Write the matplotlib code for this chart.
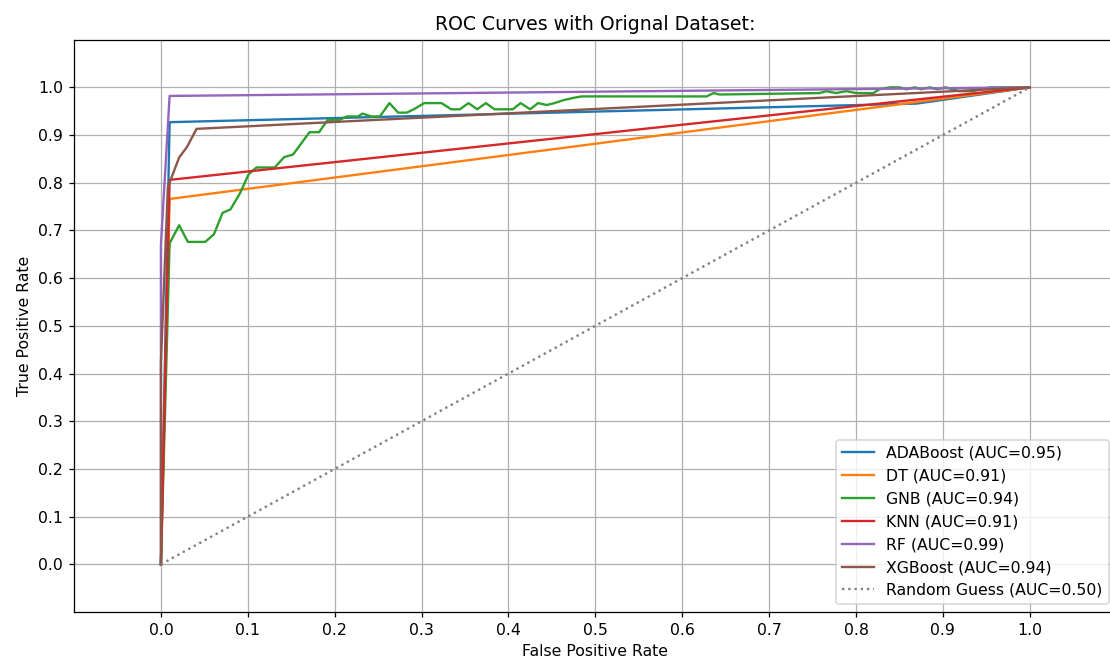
import numpy as np
import matplotlib
matplotlib.use("Agg")
import matplotlib.pyplot as plt

# ROC points
ada_fpr = [0.0, 0.01, 0.87, 1.0]
ada_tpr = [0.0, 0.927, 0.966, 1.0]

dt_fpr = [0.0, 0.01, 1.0]
dt_tpr = [0.0, 0.766, 1.0]

gnb_fpr = [0.0, 0.01, 0.021, 0.031, 0.051, 0.061, 0.071, 0.080, 0.091, 0.101,
           0.110, 0.131, 0.142, 0.152, 0.171, 0.182, 0.192, 0.206, 0.214, 0.227,
           0.232, 0.242, 0.252, 0.263, 0.273, 0.283, 0.292, 0.303, 0.323, 0.334,
           0.344, 0.354, 0.364, 0.374, 0.384, 0.405, 0.414, 0.425, 0.434, 0.444,
           0.453, 0.463, 0.475, 0.484, 0.628, 0.636, 0.643, 0.758, 0.766, 0.777,
           0.789, 0.800, 0.820, 0.827, 0.839, 0.850, 0.858, 0.868, 0.875, 0.885,
           0.893, 0.903, 0.919, 0.934, 0.954, 1.0]
gnb_tpr = [0.0, 0.673, 0.711, 0.676, 0.676, 0.692, 0.737, 0.744, 0.778, 0.818,
           0.832, 0.832, 0.854, 0.859, 0.906, 0.906, 0.932, 0.932, 0.939, 0.939,
           0.945, 0.939, 0.939, 0.967, 0.947, 0.947, 0.955, 0.967, 0.967, 0.954,
           0.954, 0.967, 0.954, 0.967, 0.954, 0.954, 0.967, 0.954, 0.967, 0.963,
           0.967, 0.973, 0.978, 0.981, 0.981, 0.988, 0.985, 0.988, 0.992, 0.988,
           0.992, 0.988, 0.988, 0.996, 1.0, 1.0, 0.996, 1.0, 0.996, 1.0,
           0.996, 1.0, 0.992, 0.992, 1.0, 1.0]

knn_fpr = [0.0, 0.01, 1.0]
knn_tpr = [0.0, 0.806, 1.0]

rf_fpr = [0.0, 0.0, 0.01, 1.0]
rf_tpr = [0.0, 0.67, 0.982, 1.0]

xgb_fpr = [0.0, 0.0, 0.008, 0.021, 0.030, 0.041, 1.0]
xgb_tpr = [0.0, 0.424, 0.791, 0.853, 0.875, 0.913, 1.0]

names = ["ADABoost", "DT", "GNB", "KNN", "RF", "XGBoost"]
aucs = [0.95, 0.91, 0.94, 0.91, 0.99, 0.94]
curves = [(ada_fpr, ada_tpr), (dt_fpr, dt_tpr), (gnb_fpr, gnb_tpr),
          (knn_fpr, knn_tpr), (rf_fpr, rf_tpr), (xgb_fpr, xgb_tpr)]

DPI = 113  # reference looks like a slightly enlarged render
fig = plt.figure(figsize=(1110 / DPI, 661 / DPI), dpi=DPI)
# right spine falls just outside the picture, as in the reference
ax = fig.add_axes([0.0667, 0.0741, 0.9393, 0.8659])

for (fpr, tpr), name, auc in zip(curves, names, aucs):
    ax.plot(fpr, tpr, label=f"{name} (AUC={auc:.2f})")

ax.plot([0, 1], [0, 1], ':', color='gray', label="Random Guess (AUC=0.50)")

ax.set_xlim(-0.1, 1.1)
ax.set_ylim(-0.1, 1.1)
ax.set_xticks(np.arange(0, 1.01, 0.1))
ax.set_yticks(np.arange(0, 1.01, 0.1))
ax.set_xlabel("False Positive Rate")
ax.set_ylabel("True Positive Rate")
ax.set_title("ROC Curves with Orignal Dataset:")
ax.grid(True)
ax.legend(loc="lower right")

fig.savefig("out.png", dpi=DPI)
